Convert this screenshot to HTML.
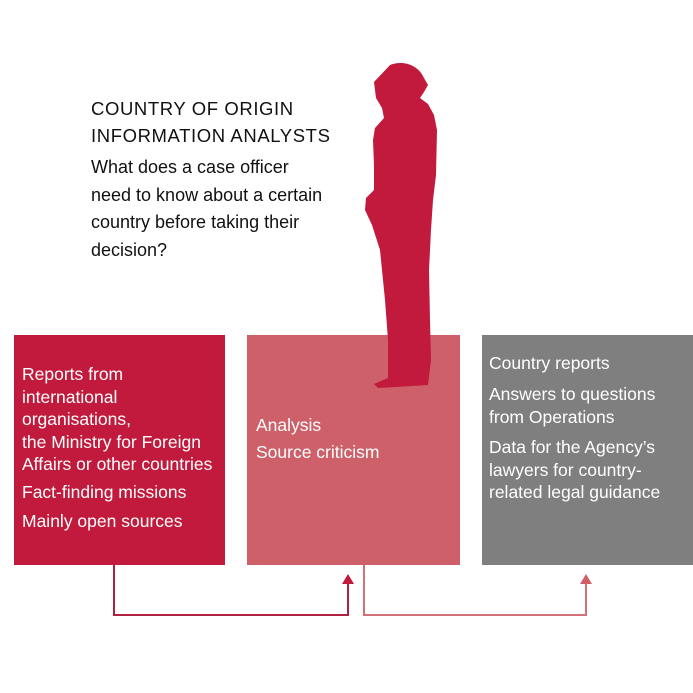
<!DOCTYPE html>
<html><head><style>
body{margin:0;width:693px;height:693px;background:#fff;position:relative;overflow:hidden;font-family:"Liberation Sans",sans-serif}
.t{position:absolute;white-space:nowrap}
.box{position:absolute;top:335px;height:230px}
.w{color:#fff;font-size:17.5px;line-height:22.5px;position:absolute;white-space:nowrap}
</style></head><body>
<div class="box" style="left:14px;width:211px;background:#c11a3c"></div>
<div class="box" style="left:247px;width:213px;background:#cd6068"></div>
<div class="box" style="left:482px;width:211px;background:#7f7f7f"></div>
<svg width="693" height="693" style="position:absolute;left:0;top:0">
<path d="M390,65 C402,60 418,64 424,78 L428,85 L424,92 L420,98 L428,104 L434,115 L437,130 L436,175 L433,200 L431,230 L429,270 L430,320 L431,360 L428,385 L378,388 L374,384 L388,378 L388,340 L385,300 L380,250 L372,225 L365,210 L366,198 L374,190 L374,165 L373,140 L375,128 L384,118 L382,108 L376,98 L374,82 Z" fill="#c11a3c"/>
<polyline points="114,565 114,615 348,615 348,582" fill="none" stroke="#b0203f" stroke-width="2"/>
<polygon points="342,584 354,584 348,574" fill="#c11a3c"/>
<polyline points="364,565 364,615 586,615 586,582" fill="none" stroke="#d07078" stroke-width="2"/>
<polygon points="580,584 592,584 586,574" fill="#d06068"/>
</svg>
<div class="t" style="left:91px;top:95px;font-size:18.5px;letter-spacing:0.6px;line-height:27px;color:#111">COUNTRY OF ORIGIN<br>INFORMATION ANALYSTS</div>
<div class="t" style="left:91px;top:154px;font-size:18px;line-height:27.5px;color:#111">What does a case officer<br>need to know about a certain<br>country before taking their<br>decision?</div>
<div class="w" style="left:22px;top:363px">Reports from<br>international<br>organisations,<br>the Ministry for Foreign<br>Affairs or other countries</div>
<div class="w" style="left:22px;top:481px">Fact-finding missions</div>
<div class="w" style="left:22px;top:510px">Mainly open sources</div>
<div class="w" style="left:256px;top:414px">Analysis</div>
<div class="w" style="left:256px;top:441px">Source criticism</div>
<div class="w" style="left:489px;top:352px">Country reports</div>
<div class="w" style="left:489px;top:383px">Answers to questions<br>from Operations</div>
<div class="w" style="left:489px;top:436px">Data for the Agency’s<br>lawyers for country-<br>related legal guidance</div>
</body></html>
